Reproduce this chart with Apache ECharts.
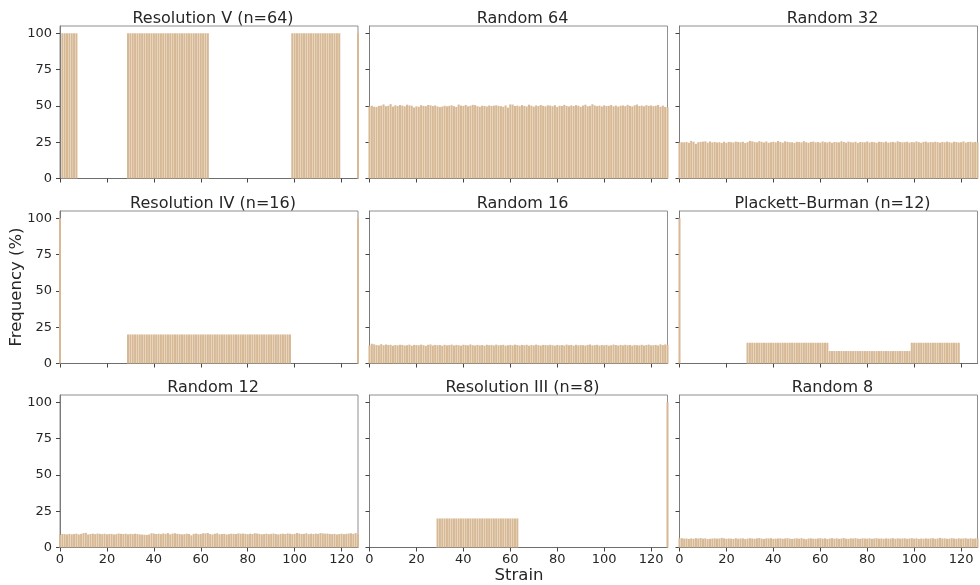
<!DOCTYPE html>
<html>
<head>
<meta charset="utf-8">
<script src="https://cdn.jsdelivr.net/npm/echarts@6/dist/echarts.min.js"></script>
<style>
  html, body { margin: 0; padding: 0; background: #fff; }
  #chart { width: 980px; height: 585px; }
</style>
</head>
<body>
<div id="chart"></div>
<script>
// Strain indices 0..127 (7 factors -> 128 combinations)
const strains = Array.from({ length: 128 }, (_, i) => i);

const xTicks = [0, 20, 40, 60, 80, 100, 120];
const yTicks = [0, 25, 50, 75, 100];

const panelTitles = [
  'Resolution V (n=64)', 'Random 64', 'Random 32',
  'Resolution IV (n=16)', 'Random 16', 'Plackett\u2013Burman (n=12)',
  'Random 12', 'Resolution III (n=8)', 'Random 8'
];

// Frequency (%) of each strain in each design
const resolutionV = [
  0,100,100,100,100,100,100,100,0,0,0,0,0,0,0,0,
  0,0,0,0,0,0,0,0,0,0,0,0,0,100,100,100,
  100,100,100,100,100,100,100,100,100,100,100,100,100,100,100,100,
  100,100,100,100,100,100,100,100,100,100,100,100,100,100,100,100,
  0,0,0,0,0,0,0,0,0,0,0,0,0,0,0,0,
  0,0,0,0,0,0,0,0,0,0,0,0,0,0,0,0,
  0,0,0,100,100,100,100,100,100,100,100,100,100,100,100,100,
  100,100,100,100,100,100,100,100,0,0,0,0,0,0,0,100
];

const random64 = [
  49.6,50.1,49.4,49.3,50.0,50.2,51.0,49.8,50.1,51.2,49.5,50.4,49.9,50.6,50.2,49.7,
  50.8,50.3,50.1,48.9,49.7,49.4,50.5,50.0,49.8,50.6,50.4,49.9,50.3,49.6,49.2,49.5,
  50.1,49.7,50.0,50.4,49.8,49.3,50.9,50.2,50.0,50.6,49.7,50.1,50.7,50.5,49.8,49.4,
  50.1,50.0,49.6,50.3,49.9,50.2,50.4,50.0,49.8,49.4,50.3,48.8,51.0,50.9,49.9,50.2,
  49.7,50.5,50.0,49.6,50.8,50.1,49.5,50.3,49.9,50.6,50.0,49.7,50.4,50.2,49.8,50.5,
  49.3,50.1,49.9,50.7,50.0,49.6,50.3,49.9,50.5,50.1,49.4,50.2,50.8,49.7,50.0,51.1,
  50.3,49.8,50.2,49.6,50.4,49.9,50.0,50.6,49.7,50.2,49.5,50.1,50.3,49.8,50.7,50.0,
  49.6,50.4,50.9,49.9,50.2,49.7,50.5,50.0,50.3,49.8,50.1,50.6,49.4,50.2,49.3,49.0
];

const random32 = [
  24.8,25.0,24.9,25.1,24.6,25.9,25.3,23.9,25.0,25.2,25.4,25.6,24.7,25.5,24.9,25.1,
  24.8,25.0,24.5,25.3,24.6,25.2,25.0,24.8,25.4,25.1,24.9,25.3,24.4,25.0,25.9,25.6,
  25.1,24.9,25.7,25.2,24.8,25.5,24.6,25.0,25.3,24.9,25.8,25.1,24.7,25.6,25.2,24.9,
  25.0,24.5,25.3,25.1,24.8,25.7,25.0,24.6,25.2,25.4,24.9,25.1,24.7,25.5,25.0,24.8,
  25.3,24.6,25.1,25.0,24.9,25.6,25.2,24.7,25.4,25.0,24.8,25.3,24.5,25.1,25.0,24.9,
  25.5,24.8,25.2,25.0,24.6,25.3,25.1,24.9,25.4,24.7,25.0,25.2,24.8,25.6,25.1,24.9,
  25.0,25.3,24.7,25.1,24.9,25.5,25.0,24.6,25.2,25.4,24.8,25.1,24.9,25.3,25.0,24.7,
  25.2,24.9,25.4,25.0,24.6,25.3,25.1,24.8,25.0,25.5,24.7,25.1,25.3,24.9,25.2,24.8
];

const resolutionIV = [
  100,0,0,0,0,0,0,0,0,0,0,0,0,0,0,0,
  0,0,0,0,0,0,0,0,0,0,0,0,0,20,20,20,
  20,20,20,20,20,20,20,20,20,20,20,20,20,20,20,20,
  20,20,20,20,20,20,20,20,20,20,20,20,20,20,20,20,
  20,20,20,20,20,20,20,20,20,20,20,20,20,20,20,20,
  20,20,20,20,20,20,20,20,20,20,20,20,20,20,20,20,
  20,20,20,0,0,0,0,0,0,0,0,0,0,0,0,0,
  0,0,0,0,0,0,0,0,0,0,0,0,0,0,0,100
];

const random16 = [
  12.4,13.6,13.2,12.7,12.5,13.3,12.6,13.1,12.8,12.9,12.3,12.7,12.5,12.9,12.8,12.4,
  12.6,13.0,12.3,12.8,12.7,12.5,13.0,12.6,12.2,12.9,13.1,12.4,12.8,12.6,12.7,12.3,
  12.9,12.5,12.7,13.0,12.4,12.8,12.6,12.3,12.9,12.7,12.5,13.1,12.6,12.4,12.8,12.5,
  12.7,12.3,12.9,12.6,12.8,12.4,13.0,12.5,12.7,12.9,12.3,12.6,12.8,12.5,13.0,12.7,
  12.4,12.8,12.6,12.9,12.3,12.7,12.5,13.0,12.6,12.4,12.8,12.7,12.5,12.9,12.6,12.3,
  12.8,12.5,12.7,12.4,13.0,12.6,12.8,12.3,12.9,12.5,12.7,12.6,12.4,12.8,13.1,12.5,
  12.6,12.9,12.4,12.7,12.5,12.8,12.3,12.6,13.0,12.7,12.4,12.8,12.5,12.9,12.6,12.7,
  12.3,12.8,12.6,12.5,12.9,12.4,12.7,13.0,12.5,12.6,12.8,12.4,13.2,12.7,13.1,12.9
];

const plackettBurman = [
  100,0,0,0,0,0,0,0,0,0,0,0,0,0,0,0,
  0,0,0,0,0,0,0,0,0,0,0,0,0,14.29,14.29,14.29,
  14.29,14.29,14.29,14.29,14.29,14.29,14.29,14.29,14.29,14.29,14.29,14.29,14.29,14.29,14.29,14.29,
  14.29,14.29,14.29,14.29,14.29,14.29,14.29,14.29,14.29,14.29,14.29,14.29,14.29,14.29,14.29,14.29,
  8.57,8.57,8.57,8.57,8.57,8.57,8.57,8.57,8.57,8.57,8.57,8.57,8.57,8.57,8.57,8.57,
  8.57,8.57,8.57,8.57,8.57,8.57,8.57,8.57,8.57,8.57,8.57,8.57,8.57,8.57,8.57,8.57,
  8.57,8.57,8.57,14.29,14.29,14.29,14.29,14.29,14.29,14.29,14.29,14.29,14.29,14.29,14.29,14.29,
  14.29,14.29,14.29,14.29,14.29,14.29,14.29,14.29,0,0,0,0,0,0,0,0
];

const random12 = [
  8.8,9.3,9.2,9.0,9.4,9.1,9.3,9.5,9.0,9.4,9.9,10.1,9.0,9.3,9.5,9.2,
  9.6,9.4,9.2,9.5,9.1,9.3,9.4,9.0,9.2,9.6,9.4,9.3,9.5,9.1,9.4,9.2,
  9.5,9.3,9.0,8.9,8.8,8.7,9.0,9.8,9.6,9.3,9.5,9.2,9.7,9.4,9.9,9.1,
  9.6,9.8,9.4,9.3,9.0,9.2,9.5,9.3,8.4,9.4,9.6,9.2,9.3,9.8,9.7,10.0,
  9.2,9.0,9.5,9.8,9.1,9.3,9.4,9.0,9.2,9.5,9.4,9.3,9.7,9.5,9.6,9.4,
  9.2,9.5,9.3,9.8,9.6,9.4,9.1,9.3,9.5,9.2,9.4,9.6,9.3,9.0,9.4,9.5,
  9.3,9.7,9.5,9.2,9.4,10.0,9.6,9.3,9.4,9.8,9.2,9.5,9.3,9.6,9.4,9.9,
  9.7,9.5,9.6,9.3,9.2,9.4,9.0,9.3,9.5,9.2,9.4,9.6,9.8,9.4,9.9,9.1
];

const resolutionIII = [
  0,0,0,0,0,0,0,0,0,0,0,0,0,0,0,0,
  0,0,0,0,0,0,0,0,0,0,0,0,0,20,20,20,
  20,20,20,20,20,20,20,20,20,20,20,20,20,20,20,20,
  20,20,20,20,20,20,20,20,20,20,20,20,20,20,20,20,
  0,0,0,0,0,0,0,0,0,0,0,0,0,0,0,0,
  0,0,0,0,0,0,0,0,0,0,0,0,0,0,0,0,
  0,0,0,0,0,0,0,0,0,0,0,0,0,0,0,0,
  0,0,0,0,0,0,0,0,0,0,0,0,0,0,0,100
];

const random8 = [
  6.3,6.4,6.1,6.2,5.9,6.3,6.0,6.4,6.2,6.5,6.1,6.3,5.8,6.0,6.2,6.3,
  6.1,6.2,6.6,6.3,6.0,6.2,6.1,5.9,6.4,6.0,6.2,6.3,5.8,6.1,6.4,6.2,
  6.0,6.3,6.5,6.1,5.9,6.3,6.2,6.4,6.0,6.1,6.2,6.3,6.0,6.2,6.4,6.1,
  5.9,6.2,6.3,6.1,6.4,6.0,5.7,6.2,6.3,6.1,6.0,6.2,6.4,6.1,6.3,5.9,
  6.2,6.4,6.1,6.3,6.0,6.2,6.5,6.1,6.0,6.3,6.2,6.4,6.1,6.0,6.3,6.2,
  6.1,6.3,6.0,6.2,6.4,6.1,6.2,6.0,6.3,6.1,6.2,6.4,6.0,6.3,6.1,6.2,
  6.3,6.0,6.2,6.4,6.1,6.3,5.9,6.2,6.0,6.3,6.1,6.2,6.4,6.0,6.2,6.6,
  6.2,6.3,6.0,6.1,6.4,6.2,6.0,6.3,6.1,6.2,6.4,6.0,6.3,6.1,6.2,6.3
];

const panelValues = [
  resolutionV, random64, random32,
  resolutionIV, random16, plackettBurman,
  random12, resolutionIII, random8
];

// Layout of the 3x3 panel grid (pixels)
const colLeft = [60, 369.5, 679.5];
const rowTop = [26, 211, 395];
const panelW = 298;
const panelH = 152.5;

const FONT = 'DejaVu Sans';
const TEXT = '#262626';
const BAR = '#d7b995';

const grids = [], xAxes = [], yAxes = [], series = [], titles = [];

panelTitles.forEach((name, i) => {
  const r = Math.floor(i / 3), c = i % 3;
  grids.push({
    left: colLeft[c], top: rowTop[r], width: panelW, height: panelH,
    show: true, borderColor: '#8f8f8f', borderWidth: 1, backgroundColor: 'transparent'
  });
  xAxes.push({
    type: 'value', gridIndex: i, min: 0, max: 127,
    splitLine: { show: false },
    axisLine: { show: true, onZero: false, lineStyle: { color: '#6e6e6e', width: 1 } },
    axisTick: { show: true, length: 4, customValues: xTicks, lineStyle: { color: '#444' } },
    axisLabel: {
      show: r === 2, customValues: xTicks, margin: 6,
      fontFamily: FONT, fontSize: 13, color: TEXT
    }
  });
  yAxes.push({
    type: 'value', gridIndex: i, min: 0, max: 105,
    splitLine: { show: false },
    axisLine: { show: true, lineStyle: { color: '#7a7a7a', width: 1 } },
    axisTick: { show: true, length: 4, customValues: yTicks, lineStyle: { color: '#444' } },
    axisLabel: {
      show: c === 0, customValues: yTicks, margin: 8,
      fontFamily: FONT, fontSize: 13, color: TEXT
    }
  });
  series.push({
    type: 'bar', xAxisIndex: i, yAxisIndex: i,
    data: strains.map((s, j) => [s, panelValues[i][j]]),
    barWidth: 2.05,
    itemStyle: { color: BAR },
    silent: true, clip: true
  });
  titles.push({
    text: name,
    left: colLeft[c] + panelW / 2 - 1, top: rowTop[r] - 20,
    textAlign: 'center',
    textStyle: { fontFamily: FONT, fontSize: 16, fontWeight: 'normal', color: TEXT }
  });
});

const chart = echarts.init(document.getElementById('chart'), null, { renderer: 'canvas' });
chart.setOption({
  animation: false,
  backgroundColor: '#ffffff',
  title: titles,
  grid: grids,
  xAxis: xAxes,
  yAxis: yAxes,
  series: series,
  graphic: [
    {
      type: 'text', x: 17, y: 287, rotation: Math.PI / 2,
      style: {
        text: 'Frequency (%)', fontFamily: FONT, fontSize: 16.5, fill: TEXT,
        textAlign: 'center', textVerticalAlign: 'middle'
      }
    },
    {
      type: 'text', x: 519, y: 576,
      style: {
        text: 'Strain', fontFamily: FONT, fontSize: 16.5, fill: TEXT,
        textAlign: 'center', textVerticalAlign: 'middle'
      }
    }
  ]
});
</script>
</body>
</html>
